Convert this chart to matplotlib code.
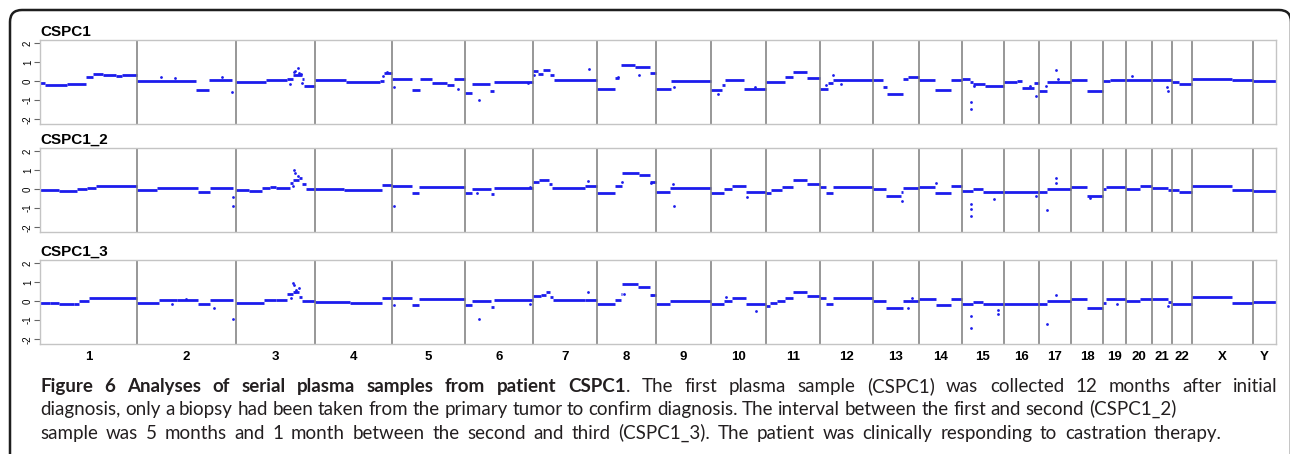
import numpy as np
import matplotlib
matplotlib.use("Agg")
import matplotlib.pyplot as plt
from matplotlib.patches import FancyBboxPatch
from matplotlib.transforms import IdentityTransform

# ==========================================
# Data
# ==========================================

chrom_labels = [str(i) for i in range(1, 23)] + ["X", "Y"]
chrom_sizes = [97, 99, 79, 77, 73, 68, 64, 59, 55, 55, 54, 53,
               46, 43, 42, 35, 32, 32, 23, 26, 20, 20, 61, 23]
sample_names = ["CSPC1", "CSPC1_2", "CSPC1_3"]

# segments per chromosome: (start fraction, end fraction, log2 ratio)
cspc1_segments = [
    [(0, 0.05, -0.1), (0.05, 0.28, -0.2), (0.28, 0.47, -0.15), (0.47, 0.55, 0.22),
     (0.55, 0.65, 0.38), (0.65, 0.78, 0.32), (0.78, 0.85, 0.25), (0.85, 1.0, 0.3)],
    [(0, 0.6, 0.0), (0.6, 0.73, -0.45), (0.73, 0.96, 0.03)],
    [(0, 0.38, -0.03), (0.38, 0.65, 0.05), (0.65, 0.72, 0.1), (0.72, 0.83, 0.3),
     (0.83, 0.86, 0.1), (0.86, 1.0, -0.25)],
    [(0, 0.4, 0.03), (0.4, 0.85, -0.07), (0.85, 0.9, 0.0), (0.9, 1.0, 0.4)],
    [(0, 0.28, 0.1), (0.28, 0.38, -0.45), (0.38, 0.55, 0.1), (0.55, 0.75, -0.12),
     (0.75, 0.85, -0.2), (0.85, 1.0, 0.1)],
    [(0, 0.1, -0.65), (0.1, 0.37, -0.15), (0.37, 0.43, -0.5), (0.43, 1.0, -0.07)],
    [(0, 0.08, 0.55), (0.08, 0.15, 0.35), (0.15, 0.27, 0.6), (0.27, 0.33, 0.3), (0.33, 1.0, 0.05)],
    [(0, 0.3, -0.42), (0.3, 0.38, 0.15), (0.4, 0.65, 0.82), (0.65, 0.9, 0.72), (0.9, 1.0, 0.4)],
    [(0, 0.28, -0.42), (0.28, 1.0, 0.02)],
    [(0, 0.2, -0.45), (0.2, 0.25, -0.2), (0.25, 0.6, 0.05), (0.6, 1.0, -0.42)],
    [(0, 0.35, -0.07), (0.35, 0.5, 0.2), (0.5, 0.75, 0.48), (0.75, 1.0, 0.15)],
    [(0, 0.15, -0.4), (0.15, 0.25, -0.1), (0.25, 1.0, 0.05)],
    [(0, 0.22, 0.05), (0.22, 0.3, -0.3), (0.3, 0.65, -0.68), (0.65, 0.75, 0.1), (0.75, 1.0, 0.2)],
    [(0, 0.38, 0.05), (0.38, 0.75, -0.45), (0.75, 1.0, 0.05)],
    [(0, 0.2, 0.1), (0.2, 0.27, -0.05), (0.27, 0.55, -0.15), (0.55, 1.0, -0.28)],
    [(0, 0.37, -0.05), (0.37, 0.5, 0.0), (0.5, 0.85, -0.35), (0.85, 1.0, -0.1)],
    [(0, 0.24, -0.5), (0.24, 1.0, -0.03)],
    [(0, 0.5, 0.05), (0.5, 1.0, -0.52)],
    [(0, 0.3, 0.0), (0.3, 1.0, 0.05)],
    [(0, 1.0, 0.05)],
    [(0, 1.0, 0.03)],
    [(0, 0.35, -0.03), (0.35, 1.0, -0.17)],
    [(0, 0.65, 0.1), (0.65, 1.0, 0.05)],
    [(0, 1.0, 0.0)],
]

# single bins off the segments: (chromosome index, fraction, log2 ratio)
cspc1_points = [
    (1, 0.24, 0.2), (1, 0.38, 0.15), (1, 0.86, 0.2), (1, 0.96, -0.55),
    (2, 0.68, -0.15), (2, 0.73, 0.5), (2, 0.75, 0.55), (2, 0.78, 0.7), (2, 0.8, 0.4),
    (2, 0.82, 0.35), (2, 0.84, -0.1),
    (3, 0.88, 0.25), (3, 0.93, 0.48),
    (4, 0.03, -0.3), (4, 0.9, -0.4),
    (5, 0.2, -1.0), (5, 0.92, -0.1),
    (6, 0.02, 0.3), (6, 0.88, 0.65),
    (7, 0.35, 0.2), (7, 0.72, 0.3),
    (8, 0.32, -0.3),
    (9, 0.13, -0.7), (9, 0.8, -0.3),
    (11, 0.12, -0.2), (11, 0.25, 0.3), (11, 0.4, -0.15),
    (14, 0.22, -1.1), (14, 0.22, -1.45), (14, 0.28, -0.25),
    (15, 0.9, -0.78), (15, 0.75, -0.25),
    (16, 0.53, 0.6), (16, 0.22, -0.28), (16, 0.6, 0.1),
    (19, 0.22, 0.25),
    (20, 0.75, -0.3), (20, 0.78, -0.5),
]

cspc1_2_segments = [
    [(0, 0.2, -0.05), (0.2, 0.38, -0.12), (0.38, 0.48, 0.0), (0.48, 0.58, 0.08), (0.58, 1.0, 0.15)],
    [(0, 0.2, -0.05), (0.2, 0.62, 0.05), (0.62, 0.74, -0.18), (0.74, 0.97, 0.03)],
    [(0, 0.16, -0.05), (0.16, 0.33, -0.12), (0.33, 0.43, 0.03), (0.43, 0.5, 0.12),
     (0.5, 0.68, 0.03), (0.68, 0.72, 0.3), (0.72, 0.8, 0.5), (0.8, 0.84, 0.6),
     (0.84, 0.88, 0.25), (0.88, 1.0, 0.0)],
    [(0, 0.38, 0.0), (0.38, 0.87, -0.07), (0.87, 1.0, 0.2)],
    [(0, 0.28, 0.14), (0.28, 0.37, -0.22), (0.37, 1.0, 0.1)],
    [(0, 0.1, -0.22), (0.1, 0.38, 0.0), (0.38, 0.43, -0.25), (0.43, 1.0, 0.05)],
    [(0, 0.1, 0.35), (0.1, 0.25, 0.48), (0.25, 0.3, 0.25), (0.3, 0.82, 0.05), (0.82, 1.0, 0.15)],
    [(0, 0.3, -0.22), (0.3, 0.43, 0.17), (0.43, 0.72, 0.85), (0.72, 0.9, 0.72), (0.9, 1.0, 0.35)],
    [(0, 0.25, -0.18), (0.25, 1.0, 0.05)],
    [(0, 0.23, -0.22), (0.23, 0.38, -0.02), (0.38, 0.63, 0.14), (0.63, 1.0, -0.17)],
    [(0, 0.1, -0.2), (0.1, 0.3, -0.05), (0.3, 0.5, 0.12), (0.5, 0.75, 0.5), (0.75, 1.0, 0.25)],
    [(0, 0.12, 0.12), (0.12, 0.25, -0.2), (0.25, 1.0, 0.12)],
    [(0, 0.28, 0.0), (0.28, 0.6, -0.35), (0.6, 0.65, -0.15), (0.65, 1.0, 0.03)],
    [(0, 0.38, 0.12), (0.38, 0.75, -0.22), (0.75, 1.0, 0.14)],
    [(0, 0.25, -0.12), (0.25, 0.5, -0.02), (0.5, 1.0, -0.14)],
    [(0, 1.0, -0.14)],
    [(0, 0.24, -0.17), (0.24, 1.0, 0.0)],
    [(0, 0.5, 0.12), (0.5, 1.0, -0.35)],
    [(0, 0.15, -0.02), (0.15, 1.0, 0.12)],
    [(0, 0.55, 0.0), (0.55, 1.0, 0.14)],
    [(0, 0.8, 0.08), (0.8, 1.0, -0.05)],
    [(0, 0.33, -0.03), (0.33, 1.0, -0.14)],
    [(0, 0.65, 0.17), (0.65, 1.0, -0.07)],
    [(0, 1.0, -0.1)],
]

cspc1_2_points = [
    (1, 0.97, -0.4), (1, 0.97, -0.87),
    (2, 0.74, 1.0), (2, 0.75, 0.85), (2, 0.78, 0.7), (2, 0.72, 0.15),
    (4, 0.03, -0.87),
    (5, 0.18, -0.2), (5, 0.95, 0.1),
    (6, 0.86, 0.42),
    (7, 0.43, 0.35), (7, 0.92, 0.3),
    (8, 0.31, 0.25), (8, 0.32, -0.88),
    (9, 0.65, -0.43),
    (12, 0.62, -0.6),
    (13, 0.4, 0.3),
    (14, 0.22, -0.78), (14, 0.22, -1.05), (14, 0.22, -1.43), (14, 0.75, -0.52),
    (15, 0.92, -0.38),
    (16, 0.54, 0.6), (16, 0.54, 0.3), (16, 0.24, -1.12),
    (17, 0.6, -0.45),
]

cspc1_3_segments = [
    [(0, 0.1, -0.08), (0.1, 0.2, -0.1), (0.2, 0.35, -0.15), (0.35, 0.4, -0.18),
     (0.4, 0.5, 0.02), (0.5, 1.0, 0.15)],
    [(0, 0.22, -0.08), (0.22, 0.4, 0.07), (0.4, 0.62, 0.03), (0.62, 0.74, -0.17), (0.74, 0.97, 0.03)],
    [(0, 0.35, -0.08), (0.35, 0.5, 0.07), (0.5, 0.65, 0.03), (0.65, 0.72, 0.35),
     (0.72, 0.8, 0.5), (0.8, 0.84, 0.22), (0.84, 1.0, 0.0)],
    [(0, 0.45, -0.05), (0.45, 0.87, -0.08), (0.87, 1.0, 0.17)],
    [(0, 0.28, 0.15), (0.28, 0.37, -0.2), (0.37, 1.0, 0.1)],
    [(0, 0.1, -0.22), (0.1, 0.38, -0.02), (0.38, 0.43, -0.3), (0.43, 1.0, 0.03)],
    [(0, 0.12, 0.25), (0.12, 0.2, 0.3), (0.2, 0.27, 0.45), (0.27, 0.32, 0.2),
     (0.32, 0.82, 0.03), (0.82, 1.0, 0.08)],
    [(0, 0.3, -0.18), (0.3, 0.4, 0.08), (0.4, 0.43, 0.35), (0.43, 0.7, 0.88),
     (0.7, 0.9, 0.75), (0.9, 1.0, 0.3)],
    [(0, 0.25, -0.15), (0.25, 1.0, 0.02)],
    [(0, 0.23, -0.18), (0.23, 0.38, -0.02), (0.38, 0.63, 0.17), (0.63, 1.0, -0.18)],
    [(0, 0.08, -0.25), (0.08, 0.2, -0.08), (0.2, 0.35, 0.0), (0.35, 0.5, 0.18),
     (0.5, 0.75, 0.47), (0.75, 1.0, 0.25)],
    [(0, 0.12, 0.15), (0.12, 0.25, -0.17), (0.25, 1.0, 0.15)],
    [(0, 0.28, 0.0), (0.28, 0.65, -0.35), (0.65, 1.0, 0.02)],
    [(0, 0.4, 0.12), (0.4, 0.75, -0.2), (0.75, 1.0, 0.12)],
    [(0, 0.25, -0.14), (0.25, 0.5, -0.04), (0.5, 1.0, -0.18)],
    [(0, 1.0, -0.17)],
    [(0, 0.24, -0.18), (0.24, 1.0, 0.0)],
    [(0, 0.5, 0.12), (0.5, 1.0, -0.35)],
    [(0, 0.15, -0.08), (0.15, 1.0, 0.12)],
    [(0, 0.55, 0.0), (0.55, 1.0, 0.1)],
    [(0, 0.8, 0.1), (0.8, 1.0, -0.05)],
    [(0, 1.0, -0.18)],
    [(0, 0.65, 0.2), (0.65, 1.0, -0.08)],
    [(0, 1.0, -0.07)],
]

cspc1_3_points = [
    (1, 0.35, -0.15), (1, 0.78, -0.37), (1, 0.97, -0.92), (1, 0.49, 0.1),
    (2, 0.72, 0.95), (2, 0.74, 0.82), (2, 0.76, 0.6), (2, 0.8, 0.7), (2, 0.7, 0.15), (2, 0.75, 0.45),
    (4, 0.03, -0.22),
    (5, 0.2, -0.95), (5, 0.95, -0.15),
    (6, 0.86, 0.47),
    (7, 0.93, 0.3), (7, 0.45, 0.35),
    (9, 0.27, 0.2), (9, 0.82, -0.52),
    (12, 0.75, -0.35), (12, 0.85, 0.15),
    (14, 0.22, -0.8), (14, 0.22, -1.4), (14, 0.85, -0.45), (14, 0.85, -0.7),
    (16, 0.54, 0.33), (16, 0.24, -1.22),
    (18, 0.6, -0.15),
    (20, 0.82, -0.25),
]

all_segments = [cspc1_segments, cspc1_2_segments, cspc1_3_segments]
all_points = [cspc1_points, cspc1_2_points, cspc1_3_points]

# caption, one list of (word, bold) per printed line
caption_line1 = ([(w, True) for w in "Figure 6 Analyses of serial plasma samples from patient CSPC1".split()]
                 + [(w, False) for w in ". The first plasma sample (CSPC1) was collected 12 months after initial".split()])
caption_line2 = [(w, False) for w in ("diagnosis, only a biopsy had been taken from the primary tumor to confirm "
                                      "diagnosis. The interval between the first and second (CSPC1_2)").split()]
caption_line3 = [(w, False) for w in ("sample was 5 months and 1 month between the second and third (CSPC1_3). "
                                      "The patient was clinically responding to castration therapy.").split()]

# ==========================================
# Figure
# ==========================================

W, H = 1290, 454
fig = plt.figure(figsize=(W / 100, H / 100), dpi=100)

offsets = np.concatenate([[0], np.cumsum(chrom_sizes)])
centers = offsets[:-1] + np.array(chrom_sizes) / 2
blue = "#1c1cec"

panel_tops = [40, 148, 260]
panel_h = 84
ax_left, ax_right = 40, 1276

for k, name in enumerate(sample_names):
    top = panel_tops[k]
    ax = fig.add_axes([ax_left / W, 1 - (top + panel_h) / H,
                       (ax_right - ax_left) / W, panel_h / H])

    for i, segs in enumerate(all_segments[k]):
        for a, b, v in segs:
            ax.hlines(v, offsets[i] + a * chrom_sizes[i], offsets[i] + b * chrom_sizes[i],
                      color=blue, lw=2.0)
    px = [offsets[c] + f * chrom_sizes[c] for c, f, v in all_points[k]]
    py = [v for c, f, v in all_points[k]]
    ax.scatter(px, py, s=4, color=blue, linewidths=0)

    for b in offsets[1:-1]:
        ax.axvline(b, color="#7a7a7a", lw=1.1)

    ax.set_xlim(0, offsets[-1])
    ax.set_ylim(-2.25, 2.15)
    ax.set_yticks([-2, -1, 0, 1, 2])
    ax.set_yticklabels(["-2", "-1", "0", "1", "2"], rotation=90, va="center",
                       fontsize=7, family="Liberation Sans")
    ax.tick_params(axis="y", length=4, width=0.8, color="#666666", pad=1)
    for s in ax.spines.values():
        s.set_color("#c4c4c4")
        s.set_linewidth(1.0)

    if k == 2:
        ax.set_xticks(centers)
        ax.set_xticklabels(chrom_labels, fontsize=9.5, fontweight="bold",
                           family="Liberation Sans")
        ax.tick_params(axis="x", length=0, pad=5)
    else:
        ax.set_xticks([])

    fig.text(ax_left / W, 1 - (top - 4) / H, name, fontsize=11, fontweight="bold",
             family="Liberation Sans", va="baseline", ha="left")

# ==========================================
# Caption (word by word, spread to the line ends of the original)
# ==========================================

renderer = fig.canvas.get_renderer()
cap_size = 13.5
cap_color = "#231f20"
cap_x = 40
caption = [(caption_line1, 392, 1278), (caption_line2, 415, 1176), (caption_line3, 439, 1222)]

for words, yb, x_end in caption:
    texts = []
    for w, bold in words:
        t = fig.text(0, 1 - yb / H, w, fontsize=cap_size, family="Lato",
                     fontweight="bold" if bold else "normal", color=cap_color, va="baseline")
        texts.append(t)
    widths = [t.get_window_extent(renderer).width for t in texts]
    n_gaps = len(texts) - 1
    # the full stop after the bold title sits tight against it
    tight = [j for j in range(1, len(texts))
             if texts[j].get_text().startswith(".") and texts[j - 1].get_fontweight() == "bold"]
    gap = (x_end - cap_x - sum(widths)) / (n_gaps - len(tight))
    x = cap_x
    for j, (t, wd) in enumerate(zip(texts, widths)):
        if j in tight:
            x -= gap
        t.set_x(x / W)
        x += wd + gap

# rounded frame around the figure
frame = FancyBboxPatch((10, -40), 1281, H - 10 + 40,
                       boxstyle="round,pad=0,rounding_size=12",
                       transform=IdentityTransform(), fill=False,
                       ec="#1e1e1e", lw=1.8, clip_on=False)
fig.patches.append(frame)

fig.savefig("out.png", dpi=100)
